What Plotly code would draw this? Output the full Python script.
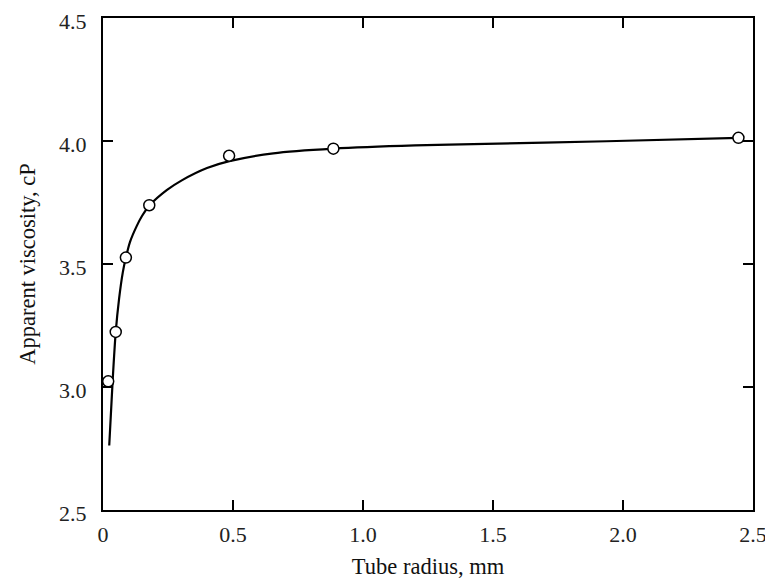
import plotly.graph_objects as go

# measured data points
radius_mm = [0.02, 0.049, 0.088, 0.178, 0.485, 0.886, 2.444]
viscosity_cp = [3.023, 3.224, 3.526, 3.739, 3.94, 3.969, 4.013]

# fitted curve
curve_x = [0.024, 0.037, 0.049, 0.062, 0.076, 0.088, 0.104, 0.130, 0.150, 0.178, 0.245, 0.303,
           0.40, 0.486, 0.655, 0.886, 1.2, 1.424, 1.937, 2.444]
curve_y = [2.762, 3.023, 3.224, 3.36, 3.465, 3.526, 3.59, 3.655, 3.695, 3.737, 3.800, 3.840,
           3.890, 3.918, 3.950, 3.969, 3.982, 3.987, 3.999, 4.013]

x_ticks = [0, 0.5, 1.0, 1.5, 2.0, 2.5]
x_tick_text = ["0", "0.5", "1.0", "1.5", "2.0", "2.5"]
y_ticks = [2.5, 3.0, 3.5, 4.0, 4.5]
y_tick_text = ["2.5", "3.0", "3.5", "4.0", "4.5"]

font_family = "Liberation Serif, DejaVu Serif, serif"

fig = go.Figure()
fig.add_trace(go.Scatter(
    x=curve_x, y=curve_y, mode="lines",
    line=dict(color="black", width=2.2, shape="spline", smoothing=0.8),
    hoverinfo="skip", showlegend=False,
))
fig.add_trace(go.Scatter(
    x=radius_mm, y=viscosity_cp, mode="markers",
    marker=dict(symbol="circle", size=11, color="white",
                line=dict(color="black", width=1.5)),
    showlegend=False,
))

axis_common = dict(
    showgrid=False, zeroline=False, showline=True, linecolor="black", linewidth=2,
    mirror="ticks", ticks="inside", ticklen=10, tickwidth=1.5, tickcolor="black",
    tickfont=dict(family=font_family, size=22, color="#222"),
    automargin=False, ticklabeloverflow="allow",
)

# the page body adds an 8 px offset, so the figure is sized 8 px smaller
fig.update_layout(
    width=765, height=576,
    margin=dict(l=95, r=20, t=10, b=74),
    paper_bgcolor="white", plot_bgcolor="white",
    xaxis=dict(range=[0, 2.5], tickvals=x_ticks, ticktext=x_tick_text,
               title=dict(text="Tube radius, mm", font=dict(family=font_family, size=22.5, color="#111"), standoff=12),
               ticklabelstandoff=4,
               **axis_common),
    yaxis=dict(range=[2.5, 4.5], tickvals=y_ticks, ticktext=y_tick_text,
               title=dict(text="Apparent viscosity, cP", font=dict(family=font_family, size=22.5, color="#111"), standoff=17),
               ticklabelstandoff=10, ticklabelshift=3,
               **axis_common),
)

fig.write_html("out.html")
